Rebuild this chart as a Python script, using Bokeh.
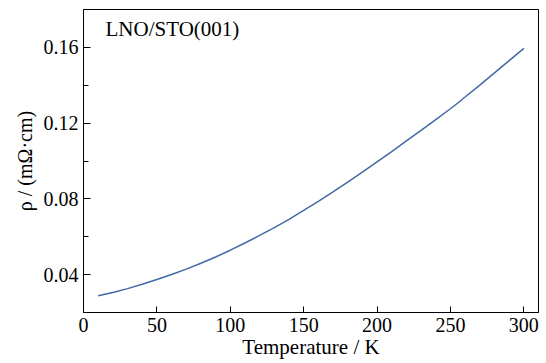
from bokeh.plotting import figure
from bokeh.models import FixedTicker, Label
from bokeh.embed import file_html
from bokeh.resources import INLINE

# Data
temperature = [10, 20, 30, 40, 50, 60, 70, 80, 90, 100, 110, 120, 130, 140, 150,
               160, 170, 180, 190, 200, 210, 220, 230, 240, 250, 257, 258, 260,
               270, 280, 290, 300]
resistivity = [0.0288, 0.0306, 0.0326, 0.0349, 0.0374, 0.0401, 0.0429, 0.0460,
               0.0493, 0.0529, 0.0567, 0.0607, 0.0648, 0.0692, 0.0739, 0.0787,
               0.0837, 0.0888, 0.0941, 0.0995, 0.1050, 0.1106, 0.1162, 0.1219,
               0.1276, 0.1318, 0.1326, 0.1338, 0.1401, 0.1465, 0.1530, 0.1595]
x_ticks = [0, 50, 100, 150, 200, 250, 300]
y_ticks = [0.04, 0.08, 0.12, 0.16]
y_minor_ticks = [0.06, 0.10, 0.14]
sample_label = "LNO/STO(001)"
x_label = "Temperature / K"
y_label = "ρ / (mΩ·cm)"

FONT = "Liberation Serif"

p = figure(width=546, height=363, x_range=(0, 310), y_range=(0.02, 0.18),
           output_backend="svg", toolbar_location=None,
           min_border_left=83, min_border_right=8, min_border_top=9,
           min_border_bottom=51)

p.line(temperature, resistivity, line_color="#4169a6", line_width=1.5)

p.xgrid.visible = False
p.ygrid.visible = False
p.outline_line_color = "black"
p.outline_line_width = 1
p.background_fill_color = "white"
p.border_fill_color = "white"

xa = p.xaxis[0]
xa.ticker = FixedTicker(ticks=x_ticks)
xa.major_tick_in = 6
xa.major_tick_out = 0
xa.minor_tick_in = 0
xa.minor_tick_out = 0
xa.major_label_standoff = 5
xa.major_label_text_font = FONT
xa.major_label_text_font_size = "20px"
xa.major_label_text_color = "black"
xa.axis_line_color = "black"
xa.major_tick_line_color = "black"
xa.axis_label = x_label
xa.axis_label_standoff = 0
xa.axis_label_text_font = FONT
xa.axis_label_text_font_size = "21px"
xa.axis_label_text_font_style = "normal"
xa.axis_label_text_color = "black"

ya = p.yaxis[0]
ya.ticker = FixedTicker(ticks=y_ticks, minor_ticks=y_minor_ticks)
ya.major_tick_in = 7
ya.major_tick_out = 0
ya.minor_tick_in = 5
ya.minor_tick_out = 0
ya.major_label_standoff = 5
ya.major_label_text_font = FONT
ya.major_label_text_font_size = "20px"
ya.major_label_text_color = "black"
ya.axis_line_color = "black"
ya.major_tick_line_color = "black"
ya.minor_tick_line_color = "black"
ya.major_label_overrides = {t: f"{t:.2f}" for t in y_ticks}
ya.axis_label = y_label
ya.axis_label_standoff = 5
ya.axis_label_text_font = FONT
ya.axis_label_text_font_size = "20px"
ya.axis_label_text_font_style = "normal"
ya.axis_label_text_color = "black"

p.add_layout(Label(x=15, y=0.1697, text=sample_label, text_font=FONT,
                   text_font_size="21px", text_color="black",
                   text_align="left", text_baseline="middle"))

open("out.html", "w").write(file_html(p, INLINE))
